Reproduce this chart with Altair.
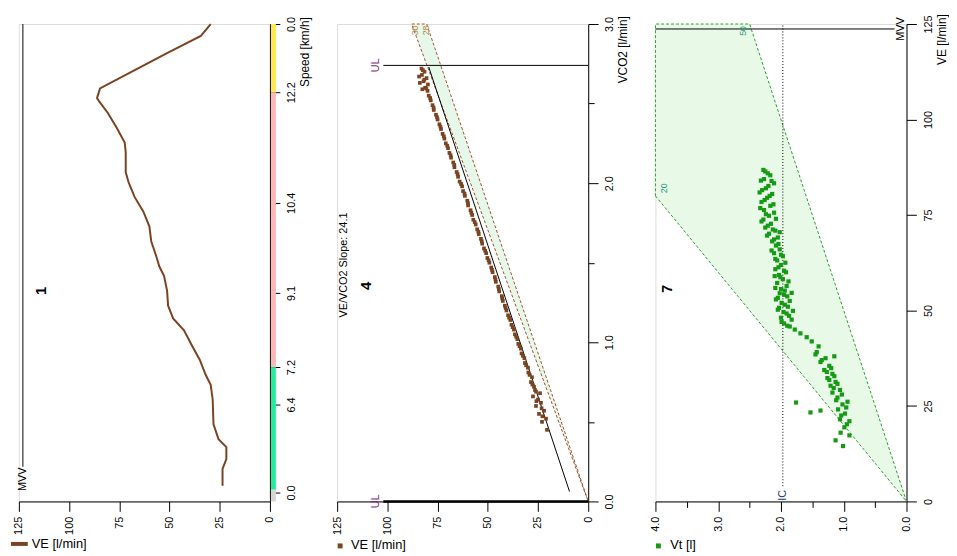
import altair as alt
import pandas as pd

W, H = 254, 483
FONT = "Liberation Sans"
BROWN = "#7a4322"
GREEN = "#169a16"

# ---------------- panel 1 : VE over time (speed stages) ----------------
p1_time = [0.53, 1.1, 1.43, 1.83, 2.1, 2.6, 3.43, 3.93, 4.27, 4.77, 5.27, 5.77, 6.17, 6.6, 7.1,
           7.6, 7.93, 8.27, 8.77, 9.27, 9.77, 10.27, 10.77, 11.1, 11.77, 12.1, 12.6, 13.1, 13.5,
           13.6, 13.93, 14.5, 15.1, 15.7, 16.1]
p1_ve = [23.6, 23.6, 21.7, 21.7, 25.6, 28.1, 28.5, 29.5, 32.0, 34.9, 38.9, 42.8, 48.2, 50.7, 51.2,
         52.7, 55.1, 56.6, 59.1, 60.0, 63.0, 67.4, 70.4, 71.8, 71.8, 72.3, 76.3, 80.7, 85.1,
         86.1, 84.6, 68.5, 51.7, 34.4, 29.5]
speed_tick_time = [0.3, 3.27, 4.53, 7.03, 10.07, 13.8, 16.1]
speed_tick_label = ["0.0", "6.4", "7.2", "9.1", "10.4", "12.2", "0.0"]
stage_start = [0.0, 0.4, 4.53, 13.8]
stage_end = [0.4, 4.53, 13.8, 16.1]
stage_color = ["#d6d6d6", "#22ee99", "#ffb6b6", "#ffe84d"]
mvv = 123.0

# ---------------- panel 4 : VE vs VCO2 ----------------
p4_vco2 = [0.45, 0.50, 0.52, 0.55, 0.57, 0.60, 0.62, 0.64, 0.66, 0.68, 0.70, 0.72, 0.75, 0.78, 0.81,
           0.84, 0.87, 0.90, 0.93, 0.96, 0.99, 1.02, 1.05, 1.08, 1.11, 1.14, 1.17, 1.20, 1.23, 1.26,
           1.29, 1.32, 1.35, 1.38, 1.41, 1.44, 1.47, 1.50, 1.53, 1.56, 1.59, 1.62, 1.65, 1.68, 1.71,
           1.74, 1.77, 1.80, 1.83, 1.86, 1.89, 1.92, 1.95, 1.98, 2.01, 2.04, 2.07, 2.10, 2.13, 2.16,
           2.19, 2.22, 2.25, 2.28, 2.31, 2.34, 2.37, 2.40, 2.43, 2.46, 2.49, 2.52, 2.55, 2.58, 2.60,
           2.62, 2.64, 2.66, 2.68, 2.70, 2.72, 2.63, 2.59, 2.67,
           0.535, 0.585, 0.63, 0.69, 0.735, 0.795, 0.855, 0.915, 0.975, 1.035, 1.095, 1.155, 1.215,
           1.275, 1.335, 1.395, 1.455, 1.515, 1.575, 1.635, 1.695, 1.755, 1.815, 1.875, 1.935,
           1.995, 2.055, 2.115, 2.175, 2.235, 2.295, 2.355, 2.415, 2.475, 2.535, 2.595, 2.65, 2.71]
p4_ve = [20.5, 23.0, 21.0, 24.5, 22.0, 26.0, 23.5, 25.0, 27.5, 24.0, 26.5, 27.0, 28.5, 28.0, 29.8,
         30.0, 31.5, 31.8, 33.2, 33.5, 34.8, 35.3, 36.5, 37.0, 38.2, 38.8, 39.9, 40.7, 41.5, 42.5,
         43.0, 44.3, 44.8, 46.0, 46.5, 47.6, 48.3, 49.2, 50.2, 50.8, 51.9, 52.8, 53.4, 54.5, 55.3,
         56.0, 57.2, 57.8, 58.6, 59.8, 60.2, 61.4, 62.3, 62.8, 64.0, 64.8, 65.5, 66.6, 67.2, 68.3,
         69.1, 69.8, 70.9, 71.6, 72.5, 73.3, 74.1, 75.0, 75.8, 76.9, 77.5, 78.4, 79.4, 80.0, 81.2,
         79.8, 82.0, 80.5, 82.8, 81.5, 83.0, 83.8, 82.6, 84.2,
         22.8, 23.2, 25.8, 26.0, 27.8, 29.2, 30.9, 32.5, 34.2, 35.9, 37.6, 39.4, 41.1,
         42.8, 44.5, 46.2, 47.9, 49.6, 51.3, 53.0, 54.7, 56.5, 58.2, 59.9, 61.6,
         63.3, 65.0, 66.7, 68.5, 70.2, 71.9, 73.6, 75.3, 77.0, 78.7, 80.6, 81.6, 82.3]
band_vco2 = [0.0, 3.0]
band_ve_low = [0.0, 80.4]
band_ve_high = [0.0, 87.9]
band_labels = ["30", "28"]
band_label_vco2 = [2.96, 2.96]
band_label_ve = [86.2, 80.9]
slope_line_vco2 = [0.062, 2.73]
slope_line_ve = [9.3, 79.4]
ul_vco2 = [2.74, 0.0]
ul_ve_end = 102.0
ul_label_ve = 105.4

# ---------------- panel 7 : VE vs Vt ----------------
p7_vt = [1.01, 1.13, 0.91, 0.99, 0.91, 1.06, 0.98, 1.09, 1.02, 0.94, 1.53, 1.76, 1.37, 1.10, 1.18,
         1.06, 1.21, 1.13, 1.26, 1.18, 1.31, 1.23, 1.37, 1.29, 1.15, 1.43, 1.40, 1.51, 1.59, 1.69,
         1.78, 1.86, 1.95, 1.83, 2.00, 1.91, 1.81, 2.03, 1.94, 1.86, 2.05, 1.95, 1.83, 2.00, 1.91,
         2.06, 1.97, 2.03, 1.92, 2.09, 2.00, 2.06, 1.97, 2.11, 2.02, 2.08, 2.14, 2.05, 2.19, 2.09,
         2.25, 2.16, 2.28, 2.19, 2.11, 2.27, 2.17, 2.31, 2.22, 2.14, 2.30, 2.20, 2.11, 2.27, 2.17, 2.25,
         1.90, 1.99, 1.87, 1.96, 2.05, 1.89, 1.99, 2.08, 1.90, 2.02, 1.94, 2.09, 1.88, 2.01, 2.10,
         1.95, 2.04, 1.93, 2.09, 2.00, 2.15, 2.04, 2.11, 2.22, 2.02, 2.13, 2.21, 2.31, 2.08, 2.24,
         2.33, 2.12, 2.26, 2.18, 2.34, 2.24, 2.15, 2.32, 2.21, 2.28,
         1.45, 1.35, 1.20, 1.27, 1.15, 1.23, 1.10, 1.16, 1.03, 1.12, 0.96, 1.04, 0.95, 1.05]
p7_ve = [14.5, 16.0, 17.3, 19.4, 21.0, 21.5, 23.0, 24.1, 25.4, 26.1, 23.3, 25.9, 23.8, 27.2, 28.5,
         29.2, 30.3, 31.3, 32.3, 33.4, 34.4, 35.5, 36.5, 37.5, 38.0, 39.1, 40.6, 41.9, 43.0, 44.0,
         45.0, 45.8, 46.6, 47.6, 48.1, 49.2, 49.9, 50.7, 51.5, 52.5, 53.3, 54.1, 54.6, 55.6, 56.4,
         57.2, 58.2, 59.3, 60.0, 60.8, 61.9, 63.1, 64.2, 65.0, 66.0, 67.0, 68.1, 69.1, 70.1, 70.9,
         71.7, 72.7, 73.8, 74.8, 75.6, 76.3, 77.4, 78.4, 79.5, 80.5, 81.5, 82.6, 83.3, 84.4, 85.4, 86.4,
         46.0, 47.0, 48.6, 49.6, 50.2, 51.0, 52.0, 52.9, 53.7, 54.5, 55.2, 55.9, 57.6, 58.7, 59.0,
         60.4, 61.3, 62.5, 63.5, 64.6, 65.7, 67.4, 68.6, 69.6, 70.5, 71.2, 72.2, 73.3, 74.0, 75.2,
         76.8, 77.8, 78.9, 80.0, 80.9, 82.0, 83.9, 84.0, 85.9, 86.8,
         38.5, 37.0, 34.9, 33.9, 32.8, 31.8, 30.8, 29.7, 28.0, 26.5, 24.6, 22.5, 20.2, 18.0]
bf_vt = [0.0, 2.5, 4.0]
bf_ve_low = [0.0, 50.0, 80.0]
bf_ve_high = [0.0, 125.0, 125.0]
bf_labels = ["20", "50"]
bf_label_vt = [3.86, 2.6]
bf_label_ve = [82.0, 123.2]
mvv7 = 123.7
ic_vt = 1.97

one = pd.DataFrame({"k": [0]})


def axis(orient, values, label_expr=None, fmt=None, minor=False):
    kw = dict(orient=orient, values=values, title=None, labelAngle=270,
              labelOverlap=False, labelFlush=False, grid=False,
              domainColor="#000", tickColor="#000", labelColor="#000",
              labelFont=FONT, labelFontSize=11)
    if orient == "bottom":
        kw.update(labelAlign="right", labelBaseline="middle", labelPadding=5)
    else:
        kw.update(labelAlign="center", labelBaseline="top", labelPadding=6)
    if minor:
        kw["tickSize"] = {"condition": {"test": "datum.value % 1 === 0", "value": 10}, "value": 6}
    else:
        kw["tickSize"] = 10
    if label_expr:
        kw["labelExpr"] = label_expr
    if fmt:
        kw["format"] = fmt
    return alt.Axis(**kw)


def ptext(txt, x, y, size=12, weight="normal", align="center", color="#000"):
    return alt.Chart(one).mark_text(text=txt, angle=270, align=align, baseline="middle",
                                    fontSize=size, fontWeight=weight, font=FONT,
                                    color=color).encode(x=alt.value(x), y=alt.value(y))


def legend_text(txt, x, y):
    return alt.Chart(one).mark_text(text=txt, align="left", baseline="middle", fontSize=13,
                                    font=FONT, color="#000").encode(x=alt.value(x), y=alt.value(y))


ve_vals = [0, 25, 50, 75, 100, 125]
half_lab = "datum.value % 1 === 0 ? format(datum.value, '.1f') : ''"

# ======== panel 1 ========
sx1 = alt.Scale(domain=[0, 125], reverse=True, nice=False, zero=False)
sy1 = alt.Scale(domain=[0, 16.1], nice=False, zero=False)
ax1x = axis("bottom", ve_vals, fmt="d")
ax1y = axis("right", speed_tick_time,
            label_expr=f"{speed_tick_label}[indexof({speed_tick_time}, datum.value)]")

df1 = pd.DataFrame({"t": p1_time, "VE": p1_ve, "i": range(len(p1_time))})
df_stage = pd.DataFrame({"s": stage_start, "e": stage_end, "c": stage_color})
df_mvv1 = pd.DataFrame({"VE": [mvv], "t0": [1.17], "t1": [16.1], "tl": [0.35]})

p1_line = alt.Chart(df1).mark_line(color=BROWN, strokeWidth=2).encode(
    x=alt.X("VE:Q", scale=sx1, axis=ax1x),
    y=alt.Y("t:Q", scale=sy1, axis=ax1y),
    order="i:Q")
p1_stage = alt.Chart(df_stage).mark_rect().encode(
    x=alt.value(W + 1), x2=alt.value(W + 6),
    y=alt.Y("s:Q", scale=sy1, axis=ax1y), y2="e:Q",
    color=alt.Color("c:N", scale=None))
p1_mvv = alt.Chart(df_mvv1).mark_rule(color="#000", strokeWidth=1).encode(
    x=alt.X("VE:Q", scale=sx1, axis=ax1x), y=alt.Y("t0:Q", scale=sy1, axis=ax1y), y2="t1:Q")
p1_mvv_lab = alt.Chart(df_mvv1).mark_text(text="MVV", angle=270, align="left", baseline="middle",
                                         fontSize=11, font=FONT, color="#000").encode(
    x=alt.X("VE:Q", scale=sx1, axis=ax1x), y=alt.Y("tl:Q", scale=sy1, axis=ax1y))
p1_swatch = alt.Chart(one).mark_rule(color=BROWN, strokeWidth=4).encode(
    x=alt.value(-8), x2=alt.value(9), y=alt.value(H + 43))

panel1 = alt.layer(
    p1_stage, p1_mvv, p1_line, p1_mvv_lab,
    ptext("1", 22, 270, size=15, weight="bold"),
    ptext("Speed [km/h]", W + 36, -7, align="right"),
    p1_swatch, legend_text("VE [l/min]", 13, H + 43),
).properties(width=W, height=H)

# ======== panel 4 ========
sx4 = alt.Scale(domain=[0, 125], reverse=True, nice=False, zero=False)
sy4 = alt.Scale(domain=[0, 3.0], nice=False, zero=False)
ax4x = axis("bottom", ve_vals, fmt="d")
ax4y = axis("right", [0, 0.5, 1.0, 1.5, 2.0, 2.5, 3.0], label_expr=half_lab, minor=True)

df_band = pd.DataFrame({"v": band_vco2, "lo": band_ve_low, "hi": band_ve_high})
df_slope = pd.DataFrame({"v": slope_line_vco2, "VE": slope_line_ve})
df4 = pd.DataFrame({"v": p4_vco2, "VE": p4_ve})
df_ul = pd.DataFrame({"v": ul_vco2, "x0": [0.0, 0.0], "x1": [ul_ve_end, ul_ve_end],
                      "w": [1.0, 2.5], "xl": [ul_label_ve, ul_label_ve]})
df_bl = pd.DataFrame({"lab": band_labels, "v": band_label_vco2, "VE": band_label_ve})

p4_band = alt.Chart(df_band).mark_area(orient="horizontal", fill="#e6f8ea", stroke="#a0522d",
                                      strokeDash=[3, 2], strokeWidth=1).encode(
    y=alt.Y("v:Q", scale=sy4, axis=ax4y),
    x=alt.X("lo:Q", scale=sx4, axis=ax4x), x2="hi:Q")
p4_slope = alt.Chart(df_slope).mark_line(color="#000", strokeWidth=1).encode(
    x=alt.X("VE:Q", scale=sx4, axis=ax4x), y=alt.Y("v:Q", scale=sy4, axis=ax4y))
p4_pts = alt.Chart(df4).mark_square(size=14, color=BROWN, opacity=1).encode(
    x=alt.X("VE:Q", scale=sx4, axis=ax4x), y=alt.Y("v:Q", scale=sy4, axis=ax4y))
p4_ul = alt.Chart(df_ul).mark_rule(color="#000").encode(
    x=alt.X("x0:Q", scale=sx4, axis=ax4x), x2="x1:Q",
    y=alt.Y("v:Q", scale=sy4, axis=ax4y),
    strokeWidth=alt.StrokeWidth("w:Q", scale=None))
p4_ul_lab = alt.Chart(df_ul).mark_text(text="UL", angle=270, align="center", baseline="middle",
                                      fontSize=11, font=FONT, color="#7a1f7a").encode(
    x=alt.X("xl:Q", scale=sx4, axis=ax4x), y=alt.Y("v:Q", scale=sy4, axis=ax4y))
p4_bl = alt.Chart(df_bl).mark_text(angle=270, align="center", baseline="middle", fontSize=9,
                                  font=FONT, color="#b8864b").encode(
    x=alt.X("VE:Q", scale=sx4, axis=ax4x), y=alt.Y("v:Q", scale=sy4, axis=ax4y), text="lab:N")
p4_sq = alt.Chart(one).mark_square(size=25, color=BROWN, opacity=1).encode(
    x=alt.value(3), y=alt.value(H + 45))

panel4 = alt.layer(
    p4_band, p4_slope, p4_pts, p4_ul, p4_ul_lab, p4_bl,
    ptext("VE/VCO2 Slope: 24.1", 7, 297, size=11, align="left"),
    ptext("4", 29, 265, size=15, weight="bold"),
    ptext("VCO2 [l/min]", W + 35, -8, align="right"),
    p4_sq, legend_text("VE [l/min]", 14, H + 44),
).properties(width=W, height=H)

# ======== panel 7 ========
sx7 = alt.Scale(domain=[0, 4.0], reverse=True, nice=False, zero=False)
sy7 = alt.Scale(domain=[0, 125], nice=False, zero=False)
ax7x = axis("bottom", [0, 0.5, 1.0, 1.5, 2.0, 2.5, 3.0, 3.5, 4.0], label_expr=half_lab, minor=True)
ax7y = axis("right", ve_vals, fmt="d")

df_bf = pd.DataFrame({"vt": bf_vt, "lo": bf_ve_low, "hi": bf_ve_high})
df7 = pd.DataFrame({"vt": p7_vt, "VE": p7_ve})
df_bfl = pd.DataFrame({"lab": bf_labels, "vt": bf_label_vt, "VE": bf_label_ve})
df_mvv7 = pd.DataFrame({"x0": [4.0], "x1": [0.19], "VE": [mvv7], "xl": [0.08]})
df_ic = pd.DataFrame({"vt": [ic_vt], "y0": [4.0], "y1": [125.0], "yl": [1.6]})

p7_poly = alt.Chart(df_bf).mark_area(fill="#e8f9e8", stroke="#2aa02a", strokeDash=[3, 2],
                                    strokeWidth=1).encode(
    x=alt.X("vt:Q", scale=sx7, axis=ax7x),
    y=alt.Y("lo:Q", scale=sy7, axis=ax7y), y2="hi:Q")
p7_ic = alt.Chart(df_ic).mark_rule(color="#000", strokeDash=[1, 2], strokeWidth=1).encode(
    x=alt.X("vt:Q", scale=sx7, axis=ax7x), y=alt.Y("y0:Q", scale=sy7, axis=ax7y), y2="y1:Q")
p7_ic_lab = alt.Chart(df_ic).mark_text(text="IC", angle=270, align="center", baseline="middle",
                                      fontSize=11, font=FONT, color="#1a3a6a").encode(
    x=alt.X("vt:Q", scale=sx7, axis=ax7x), y=alt.Y("yl:Q", scale=sy7, axis=ax7y))
p7_mvv = alt.Chart(df_mvv7).mark_rule(color="#000", strokeWidth=1).encode(
    x=alt.X("x0:Q", scale=sx7, axis=ax7x), x2="x1:Q", y=alt.Y("VE:Q", scale=sy7, axis=ax7y))
p7_mvv_lab = alt.Chart(df_mvv7).mark_text(text="MVV", angle=270, align="center",
                                         baseline="middle", fontSize=11, font=FONT,
                                         color="#000").encode(
    x=alt.X("xl:Q", scale=sx7, axis=ax7x), y=alt.Y("VE:Q", scale=sy7, axis=ax7y))
p7_pts = alt.Chart(df7).mark_square(size=18, color=GREEN, opacity=1).encode(
    x=alt.X("vt:Q", scale=sx7, axis=ax7x), y=alt.Y("VE:Q", scale=sy7, axis=ax7y))
p7_bfl = alt.Chart(df_bfl).mark_text(angle=270, align="center", baseline="middle", fontSize=9,
                                    font=FONT, color="#2a9a7a").encode(
    x=alt.X("vt:Q", scale=sx7, axis=ax7x), y=alt.Y("VE:Q", scale=sy7, axis=ax7y), text="lab:N")
p7_sq = alt.Chart(one).mark_square(size=25, color=GREEN, opacity=1).encode(
    x=alt.value(3), y=alt.value(H + 45))

panel7 = alt.layer(
    p7_poly, p7_ic, p7_mvv, p7_pts, p7_bfl, p7_ic_lab, p7_mvv_lab,
    ptext("7", 12, 268, size=15, weight="bold"),
    ptext("VE [l/min]", W + 36, -10, align="right"),
    p7_sq, legend_text("Vt [l]", 15, H + 44),
).properties(width=W, height=H)

chart = alt.hconcat(panel1, panel4, panel7, spacing=68, bounds="flush").properties(
    padding={"left": 0, "top": 2, "right": 0, "bottom": 0}
).configure_view(stroke=None).configure(font=FONT)

chart.save("out.html", embed_options={"renderer": "svg", "actions": False})
